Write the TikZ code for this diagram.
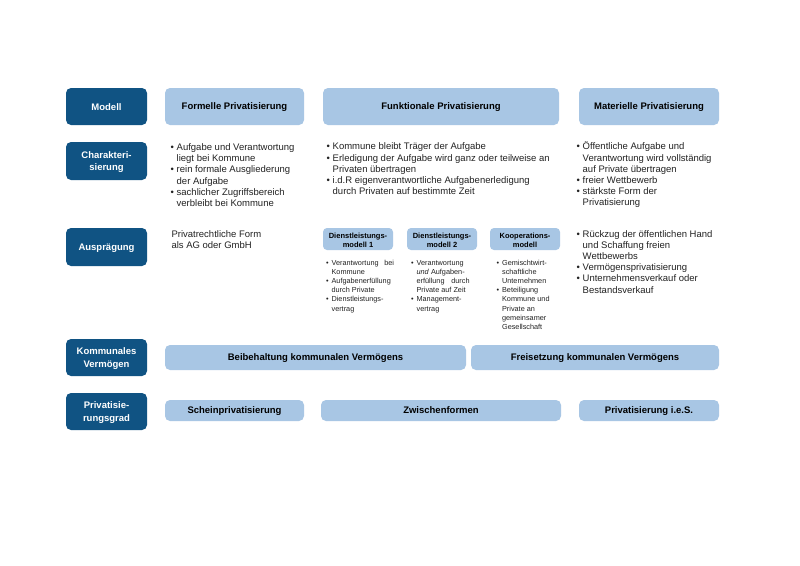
\documentclass[tikz,border=0pt]{standalone}
\usepackage{fontspec}
\setmainfont{Liberation Sans}
\definecolor{dkblue}{HTML}{105383}
\definecolor{ltblue}{HTML}{A8C6E4}
\definecolor{txtgray}{HTML}{222222}
\newcommand{\bub}{\makebox[6.2pt][l]{\textbullet}}
\newcommand{\inb}{\hspace*{6.2pt}}
\newcommand{\bus}{\makebox[5.4pt][l]{\textbullet}}
\newcommand{\ins}{\hspace*{5.4pt}}
\begin{document}
\begin{tikzpicture}[x=1pt,y=-1pt,
  darkbox/.style={fill=dkblue, rounded corners=5pt, inner sep=0pt, minimum width=81pt},
  darklabel/.style={text=white, font=\bfseries\fontsize{9.5}{12.8}\selectfont, align=center, inner sep=0pt},
  lightbox/.style={fill=ltblue, rounded corners=5pt, text=black, font=\bfseries\fontsize{9.5}{11}\selectfont, inner sep=0pt, text height=6.8pt, text depth=0pt},
  subbox/.style={fill=ltblue, rounded corners=4pt, inner sep=0pt, minimum width=70pt, minimum height=22pt},
  sublabel/.style={text=black, font=\bfseries\fontsize{7.5}{9.6}\selectfont, align=center, inner sep=0pt},
  txt/.style={anchor=base west, inner sep=0pt, text=txtgray, font=\fontsize{9.5}{11.2}\selectfont},
  subtxt/.style={anchor=base west, inner sep=0pt, text=txtgray, font=\fontsize{7.3}{9.1}\selectfont}]
\useasboundingbox (0,0) rectangle (800,565);
\fill[white] (0,0) rectangle (800,565);

% left row labels
\node[darkbox, minimum height=37pt] (modell) at (106.5,106.5) {};
\node[darklabel] (modellL) at (106.5,107.3) {Modell};
\node[darkbox, minimum height=38pt] (charakt) at (106.5,161) {};
\node[darklabel] (charaktL) at (106.5,162) {Charakteri-\\sierung};
\node[darkbox, minimum height=38pt] (auspr) at (106.5,247) {};
\node[darklabel] (ausprL) at (106.5,248) {Ausprägung};
\node[darkbox, minimum height=37pt] (komm) at (106.5,357.5) {};
\node[darklabel] (kommL) at (106.5,358.5) {Kommunales\\Vermögen};
\node[darkbox, minimum height=37pt] (grad) at (106.5,411.5) {};
\node[darklabel] (gradL) at (106.5,412.5) {Privatisie-\\rungsgrad};

% header boxes
\node[lightbox, minimum width=139pt, minimum height=37pt] (formell) at (234.5,106.5) {Formelle Privatisierung};
\node[lightbox, minimum width=236pt, minimum height=37pt] (funkt) at (441,106.5) {Funktionale Privatisierung};
\node[lightbox, minimum width=140pt, minimum height=37pt] (mater) at (649,106.5) {Materielle Privatisierung};

% Charakterisierung texts
\node[txt] (char1) at (170.3,150.5) {\begin{tabular}[t]{@{}l@{}}
\bub Aufgabe und Verantwortung\\
\inb liegt bei Kommune\\
\bub rein formale Ausgliederung\\
\inb der Aufgabe\\
\bub sachlicher Zugriffsbereich\\
\inb verbleibt bei Kommune
\end{tabular}};
\node[txt] (char2) at (326.3,149.8) {\begin{tabular}[t]{@{}l@{}}
\bub Kommune bleibt Träger der Aufgabe\\
\bub Erledigung der Aufgabe wird ganz oder teilweise an\\
\inb Privaten übertragen\\
\bub i.d.R eigenverantwortliche Aufgabenerledigung\\
\inb durch Privaten auf bestimmte Zeit
\end{tabular}};
\node[txt] (char3) at (576.3,149.8) {\begin{tabular}[t]{@{}l@{}}
\bub Öffentliche Aufgabe und\\
\inb Verantwortung wird vollständig\\
\inb auf Private übertragen\\
\bub freier Wettbewerb\\
\bub stärkste Form der\\
\inb Privatisierung
\end{tabular}};

% Auspraegung texts
\node[txt] (ausp1) at (171.3,237) {\begin{tabular}[t]{@{}l@{}}
Privatrechtliche Form\\
als AG oder GmbH
\end{tabular}};
\node[txt] (ausp3) at (576.3,237) {\begin{tabular}[t]{@{}l@{}}
\bub Rückzug der öffentlichen Hand\\
\inb und Schaffung freien\\
\inb Wettbewerbs\\
\bub Vermögensprivatisierung\\
\bub Unternehmensverkauf oder\\
\inb Bestandsverkauf
\end{tabular}};

% sub models
\node[subbox] (dl1) at (358,239) {};
\node[sublabel] (dl1L) at (358,240.3) {Dienstleistungs-\\modell 1};
\node[subbox] (dl2) at (442,239) {};
\node[sublabel] (dl2L) at (442,240.3) {Dienstleistungs-\\modell 2};
\node[subbox] (koop) at (525,239) {};
\node[sublabel] (koopL) at (525,240.3) {Kooperations-\\modell};

\node[subtxt] (dl1t) at (326,265.5) {\begin{tabular}[t]{@{}l@{}}
\bus\makebox[62.5pt][s]{Verantwortung bei}\\
\ins Kommune\\
\bus Aufgabenerfüllung\\
\ins durch Private\\
\bus Dienstleistungs-\\
\ins vertrag
\end{tabular}};
\node[subtxt] (dl2t) at (411,265.5) {\begin{tabular}[t]{@{}l@{}}
\bus Verantwortung\\
\ins \textit{und} Aufgaben-\\
\ins \makebox[53pt][s]{erfüllung durch}\\
\ins Private auf Zeit\\
\bus Management-\\
\ins vertrag
\end{tabular}};
\node[subtxt] (koopt) at (496.5,265.5) {\begin{tabular}[t]{@{}l@{}}
\bus Gemischtwirt-\\
\ins schaftliche\\
\ins Unternehmen\\
\bus Beteiligung\\
\ins Kommune und\\
\ins Private an\\
\ins gemeinsamer\\
\ins Gesellschaft
\end{tabular}};

% Kommunales Vermoegen row
\node[lightbox, minimum width=301pt, minimum height=25pt] (beib) at (315.5,357.5) {Beibehaltung kommunalen Vermögens};
\node[lightbox, minimum width=248pt, minimum height=25pt] (frei) at (595,357.5) {Freisetzung kommunalen Vermögens};

% Privatisierungsgrad row
\node[lightbox, minimum width=139pt, minimum height=21pt] (schein) at (234.5,410.5) {Scheinprivatisierung};
\node[lightbox, minimum width=240pt, minimum height=21pt] (zwisch) at (441,410.5) {Zwischenformen};
\node[lightbox, minimum width=140pt, minimum height=21pt] (ies) at (649,410.5) {Privatisierung i.e.S.};
\end{tikzpicture}
\end{document}
